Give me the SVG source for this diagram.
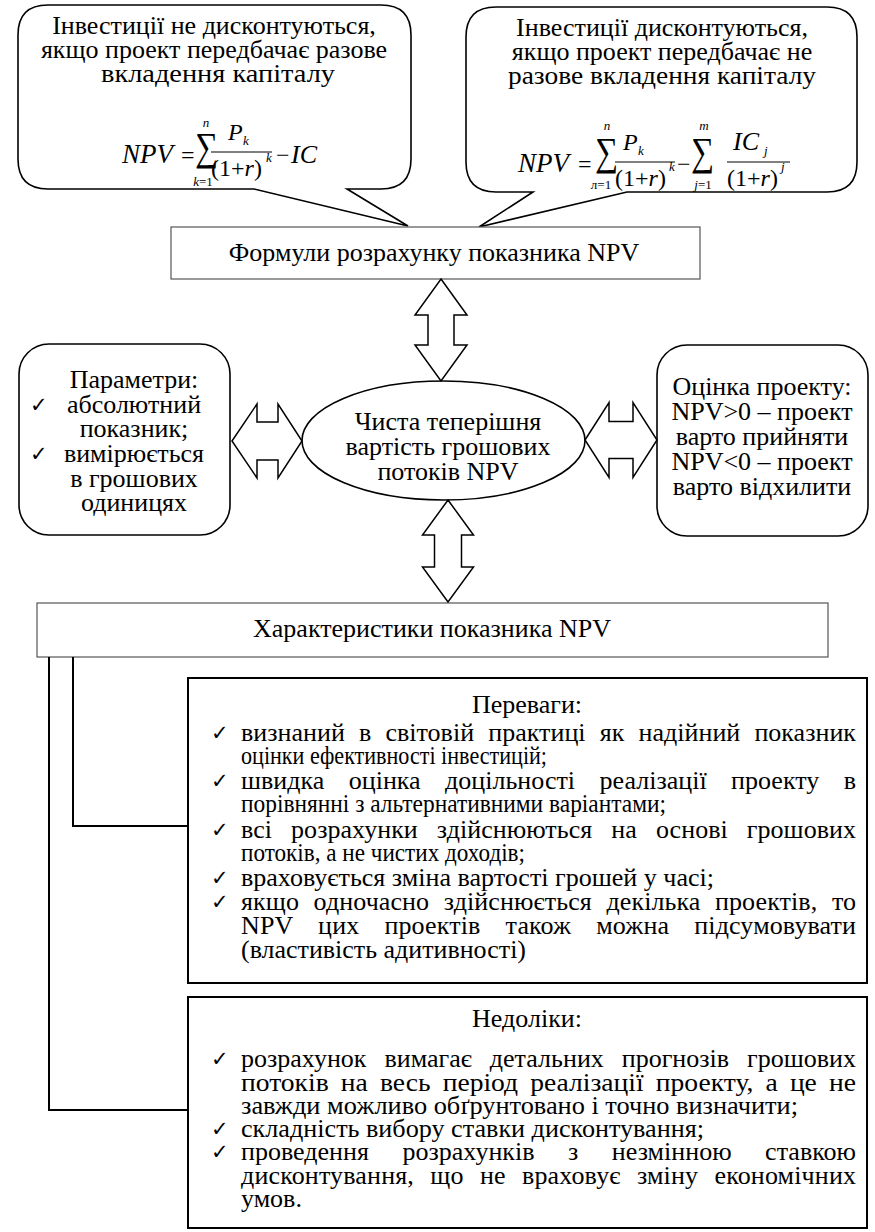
<svg xmlns="http://www.w3.org/2000/svg" width="875" height="1232" viewBox="0 0 875 1232">
  <style>
    .t { font-family: "Liberation Serif", "Times New Roman", serif; fill: #000; }
    .c { text-anchor: middle; }
    .i { font-style: italic; }
    .sm { font-size: 13px; }
    .sig { font-size: 40px; }
    .ck { font-family: "DejaVu Sans", sans-serif; font-size: 21px; font-weight: bold; fill: #000; }
    .ln { fill: #fff; stroke: #000; stroke-width: 1.6; stroke-linejoin: miter; }
    .box { fill: #fff; stroke: #000; stroke-width: 2; }
    .thin { fill: #fff; stroke: #555; stroke-width: 1.2; }
    .arr { fill: #fff; stroke: #000; stroke-width: 1.5; stroke-linejoin: miter; }
    .wire { fill: none; stroke: #000; stroke-width: 2; }
    .bar { stroke: #000; stroke-width: 1; }
    .body { font-size: 26px; }
  </style>

  <!-- callout: one-off investment -->
  <g id="callout-simple">
    <path class="ln" d="M48,5 H381 Q411,5 411,35 V159 Q411,189 381,189 H347 L408,226 L254,189 H48 Q18,189 18,159 V35 Q18,5 48,5 Z"/>
    <text class="t c" font-size="26" x="214" y="34">Інвестиції не дисконтуються,</text>
    <text class="t c" font-size="26" x="214" y="58">якщо проект передбачає разове</text>
    <text class="t c" font-size="26" x="218" y="82" textLength="234" lengthAdjust="spacingAndGlyphs">вкладення капіталу</text>
    <!-- NPV = sum P_k/(1+r)^k - IC -->
    <g class="t" font-size="24">
      <text class="i" x="122" y="163" font-size="27">NPV</text>
      <text x="181" y="163">=</text>
      <text class="sig" x="195" y="160" textLength="23" lengthAdjust="spacingAndGlyphs">∑</text>
      <text class="i c sm" x="206" y="127">n</text>
      <text class="c sm" x="203" y="186"><tspan font-style="italic">k</tspan>=1</text>
      <text class="i" x="228" y="140">P</text>
      <text class="i sm" x="243" y="145">k</text>
      <line class="bar" x1="211" y1="152" x2="272" y2="152"/>
      <text x="211" y="176">(1+<tspan font-style="italic">r</tspan>)</text>
      <text class="i sm" x="266" y="162">k</text>
      <text x="276" y="163">−</text>
      <text class="i" x="291" y="163" font-size="26">IC</text>
    </g>
  </g>

  <!-- callout: staged investment -->
  <g id="callout-staged">
    <path class="ln" d="M496,7 H827 Q857,7 857,37 V162 Q857,192 827,192 H627 L479,227 L533,192 H496 Q466,192 466,162 V37 Q466,7 496,7 Z"/>
    <text class="t c" font-size="26" x="662" y="36">Інвестиції дисконтуються,</text>
    <text class="t c" font-size="26" x="662" y="60">якщо проект передбачає не</text>
    <text class="t c" font-size="26" x="662" y="84" textLength="308" lengthAdjust="spacingAndGlyphs">разове вкладення капіталу</text>
    <!-- NPV = sum P_k/(1+r)^k - sum IC_j/(1+r)^j -->
    <g class="t" font-size="24">
      <text class="i" x="518" y="172" font-size="27">NPV</text>
      <text x="578" y="172">=</text>
      <text class="sig" x="595" y="165" textLength="23" lengthAdjust="spacingAndGlyphs">∑</text>
      <text class="i c sm" x="607" y="130">n</text>
      <text class="c sm" x="601" y="189">л=1</text>
      <text class="i" x="623" y="150">P</text>
      <text class="i sm" x="638" y="155">k</text>
      <line class="bar" x1="615" y1="162" x2="675" y2="162"/>
      <text x="615" y="186">(1+<tspan font-style="italic">r</tspan>)</text>
      <text class="i sm" x="669" y="171">k</text>
      <text x="677" y="172">−</text>
      <text class="sig" x="691" y="165" textLength="23" lengthAdjust="spacingAndGlyphs">∑</text>
      <text class="i c sm" x="704" y="130">m</text>
      <text class="c sm" x="703" y="189"><tspan font-style="italic">j</tspan>=1</text>
      <text class="i" x="733" y="150" font-size="26">IC</text>
      <text class="i sm" x="764" y="155">j</text>
      <line class="bar" x1="727" y1="162" x2="790" y2="162"/>
      <text x="727" y="186">(1+<tspan font-style="italic">r</tspan>)</text>
      <text class="i sm" x="781" y="171">j</text>
    </g>
  </g>

  <g id="formulas">
    <rect class="thin" x="171" y="227" width="529" height="52"/>
    <text class="t c" font-size="26" x="434" y="261">Формули розрахунку показника NPV</text>
  </g>

  <g id="npv">
    <ellipse cx="443.5" cy="440.5" rx="141.5" ry="59.5" fill="#fff" stroke="#000" stroke-width="1.6"/>
    <text class="t c" font-size="26" x="448" y="430">Чиста теперішня</text>
    <text class="t c" font-size="26" x="448" y="455">вартість грошових</text>
    <text class="t c" font-size="26" x="448" y="480">потоків NPV</text>
  </g>

  <g id="parameters">
    <rect x="19" y="344" width="211" height="191" rx="30" ry="30" fill="#fff" stroke="#000" stroke-width="1.6"/>
    <text class="t c" font-size="26" x="134" y="388">Параметри:</text>
    <text class="ck" x="30" y="412">✓</text>
    <text class="t c" font-size="26" x="134" y="413">абсолютний</text>
    <text class="t c" font-size="26" x="134" y="437">показник;</text>
    <text class="ck" x="30" y="461">✓</text>
    <text class="t c" font-size="26" x="134" y="462">вимірюється</text>
    <text class="t c" font-size="26" x="134" y="487">в грошових</text>
    <text class="t c" font-size="26" x="134" y="511">одиницях</text>
  </g>

  <g id="assessment">
    <rect x="657" y="345" width="211" height="191" rx="30" ry="30" fill="#fff" stroke="#000" stroke-width="1.6"/>
    <text class="t c" font-size="26" x="762" y="395">Оцінка проекту:</text>
    <text class="t c" font-size="26" x="762" y="420">NPV&gt;0 – проект</text>
    <text class="t c" font-size="26" x="762" y="445">варто прийняти</text>
    <text class="t c" font-size="26" x="762" y="470">NPV&lt;0 – проект</text>
    <text class="t c" font-size="26" x="762" y="495">варто відхилити</text>
  </g>

  <g id="characteristics">
    <rect class="thin" x="37" y="603" width="791" height="54"/>
    <text class="t c" font-size="26" x="432" y="637">Характеристики показника NPV</text>
  </g>

  <g id="advantages">
    <rect class="box" x="188" y="678" width="679" height="305"/>
    <g class="t body">
      <text class="c" x="527" y="713">Переваги:</text>
      <text x="241" y="741" word-spacing="7.6" textLength="615" lengthAdjust="spacing">визнаний в світовій практиці як надійний показник</text>
      <text x="241" y="764" textLength="306" lengthAdjust="spacingAndGlyphs">оцінки ефективності інвестицій;</text>
      <text x="241" y="789" word-spacing="18" textLength="615" lengthAdjust="spacing">швидка оцінка доцільності реалізації проекту в</text>
      <text x="241" y="812" textLength="425" lengthAdjust="spacingAndGlyphs">порівнянні з альтернативними варіантами;</text>
      <text x="241" y="838" word-spacing="12.5" textLength="615" lengthAdjust="spacing">всі розрахунки здійснюються на основі грошових</text>
      <text x="241" y="861" textLength="284" lengthAdjust="spacingAndGlyphs">потоків, а не чистих доходів;</text>
      <text x="241" y="886" textLength="473" lengthAdjust="spacingAndGlyphs">враховується зміна вартості грошей у часі;</text>
      <text x="241" y="910" word-spacing="8" textLength="615" lengthAdjust="spacing">якщо одночасно здійснюється декілька проектів, то</text>
      <text x="241" y="934" word-spacing="18.5" textLength="615" lengthAdjust="spacing">NPV цих проектів також можна підсумовувати</text>
      <text x="241" y="958" textLength="285" lengthAdjust="spacingAndGlyphs">(властивість адитивності)</text>
    </g>
    <text class="ck" x="211" y="740">✓</text>
    <text class="ck" x="211" y="788">✓</text>
    <text class="ck" x="211" y="837">✓</text>
    <text class="ck" x="211" y="885">✓</text>
    <text class="ck" x="211" y="909">✓</text>
  </g>

  <g id="drawbacks">
    <rect class="box" x="188" y="997" width="679" height="231"/>
    <g class="t body">
      <text class="c" x="527" y="1027">Недоліки:</text>
      <text x="241" y="1067" word-spacing="11.4" textLength="615" lengthAdjust="spacing">розрахунок вимагає детальних прогнозів грошових</text>
      <text x="241" y="1091" word-spacing="5" textLength="615" lengthAdjust="spacingAndGlyphs">потоків на весь період реалізації проекту, а це не</text>
      <text x="241" y="1114" textLength="557" lengthAdjust="spacingAndGlyphs">завжди можливо обґрунтовано і точно визначити;</text>
      <text x="241" y="1137" textLength="463" lengthAdjust="spacingAndGlyphs">складність вибору ставки дисконтування;</text>
      <text x="241" y="1160" word-spacing="27" textLength="615" lengthAdjust="spacing">проведення розрахунків з незмінною ставкою</text>
      <text x="241" y="1184" word-spacing="9.6" textLength="615" lengthAdjust="spacing">дисконтування, що не враховує зміну економічних</text>
      <text x="241" y="1207">умов.</text>
    </g>
    <text class="ck" x="211" y="1066">✓</text>
    <text class="ck" x="211" y="1136">✓</text>
    <text class="ck" x="211" y="1159">✓</text>
  </g>

  <g id="connectors">
    <polygon class="arr" points="441,279 467,315 454,315 454,345 467,345 441,381 415,345 428,345 428,315 415,315"/>
    <polygon class="arr" points="448,500 473.5,535 461.5,535 461.5,567 473.5,567 448,602 422.5,567 434.5,567 434.5,535 422.5,535"/>
    <polygon class="arr" points="232,441 257,404 257,422 278,422 278,404 302,441 278,478 278,460 257,460 257,478"/>
    <polygon class="arr" points="585,440 609,402.5 609,421.5 633,421.5 633,402.5 657,440 633,477.5 633,458.5 609,458.5 609,477.5"/>
    <polyline class="wire" points="73,657 73,826 188,826"/>
    <polyline class="wire" points="49,657 49,1110 188,1110"/>
  </g>
</svg>
